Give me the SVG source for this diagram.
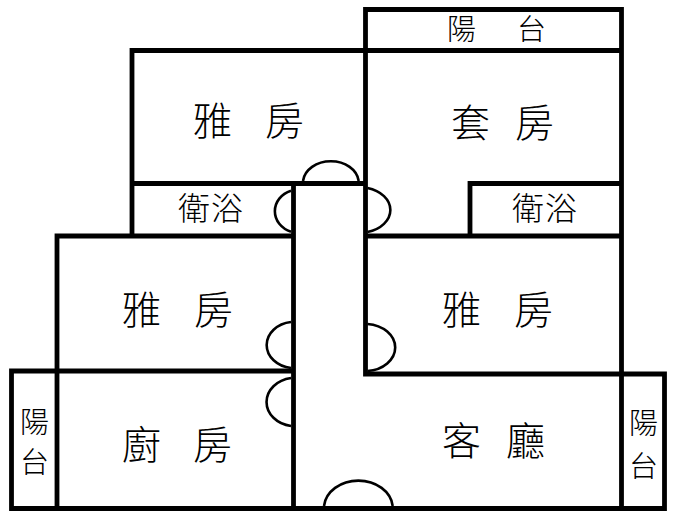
<svg xmlns="http://www.w3.org/2000/svg" width="673" height="517" viewBox="0 0 673 517">
<style>
.w{fill:none;stroke:#000;stroke-width:4.8;stroke-linecap:square}
.d{fill:none;stroke:#000;stroke-width:2.6}
text{font-family:"Noto Sans CJK TC","Noto Sans CJK SC",sans-serif;font-weight:300;fill:#000;text-anchor:start}
.l{font-size:39px}.m{font-size:32px}.s{font-size:29px}
</style>
<rect width="673" height="517" fill="#fff"/>
<g id="connectors">
<path class="w" d="M365.5 9.5H621.5V236M365.5 9.5V236M132 50.5H621.5M132 50.5V236M132 183.5H365.5M293.5 183.5V508.5M57 236H293.5M365.5 236H621.5M470 236V183.5H621.5M57 236V508.5M11.5 371H293.5M11.5 371V508.5M11.5 508.5H664.5V374H365.5V236M621.5 236V508.5"/>
</g>
<g id="doors">
<path class="d" d="M303 181A28 22 0 0 1 358.7 181"/>
<path class="d" d="M291 190.7A24 21.7 0 0 0 291 231.7"/>
<path class="d" d="M367.5 188A31 22.8 0 0 1 367.5 232"/>
<path class="d" d="M291 322A28 23.2 0 0 0 291 368"/>
<path class="d" d="M291 378A29 24.3 0 0 0 291 426"/>
<path class="d" d="M367.5 324A30.5 23.6 0 0 1 367.5 371"/>
<path class="d" d="M324 506A34.5 28 0 0 1 392.7 506"/>
</g>
<g id="room-1"><text class="l" x="193 230 265" y="135">雅 房</text></g>
<g id="room-2"><text class="l" x="451 488 515" y="137">套 房</text></g>
<g id="balcony-top"><text class="s" x="447 490 517" y="40">陽 台</text></g>
<g id="bath-1"><text class="m" x="178 211" y="220">衛浴</text></g>
<g id="bath-2"><text class="m" x="512 545" y="220">衛浴</text></g>
<g id="room-3"><text class="l" x="122 160 194" y="324">雅 房</text></g>
<g id="room-4"><text class="l" x="442 480 514" y="324">雅 房</text></g>
<g id="kitchen"><text class="l" x="122 160 193" y="459">廚 房</text></g>
<g id="living"><text class="l" x="442 480 506" y="455">客 廳</text></g>
<g id="balcony-left"><text class="s" x="20" y="433">陽</text><text class="s" x="20" y="473">台</text></g>
<g id="balcony-right"><text class="s" x="629" y="434">陽</text><text class="s" x="629" y="477">台</text></g>
</svg>
